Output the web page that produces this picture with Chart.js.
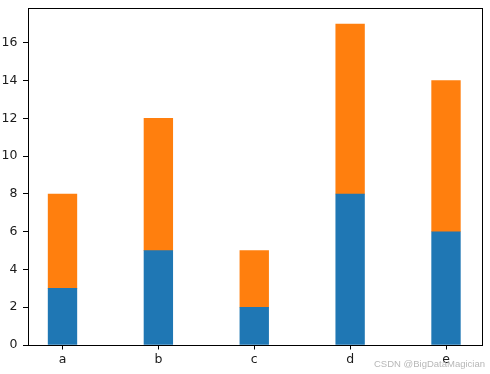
<!DOCTYPE html>
<html>
<head>
<meta charset="utf-8">
<script src="https://cdn.jsdelivr.net/npm/chart.js@4/dist/chart.umd.min.js"></script>
<style>
html,body{margin:0;padding:0;background:#fff;}
#wrap{width:490px;height:374px;position:relative;}
</style>
</head>
<body>
<div id="wrap"><canvas id="c" width="490" height="374"></canvas></div>
<script>
const categories = ['a', 'b', 'c', 'd', 'e'];
const seriesBottom = [3, 5, 2, 8, 6];
const seriesTop = [5, 7, 3, 9, 8];
const yTicks = [0, 2, 4, 6, 8, 10, 12, 14, 16];
const watermark = 'CSDN @BigDataMagician';

const toPoints = arr => arr.map((v, i) => ({x: i, y: v}));

const framePlugin = {
  id: 'frame',
  afterDraw(chart) {
    const {ctx, chartArea: a} = chart;
    ctx.save();
    ctx.strokeStyle = '#000';
    ctx.lineWidth = 1;
    ctx.strokeRect(Math.round(a.left) + 0.5, Math.round(a.top) + 0.5,
      Math.round(a.right - a.left), Math.round(a.bottom - a.top));
    ctx.font = '9.5px "Liberation Sans", Arial, sans-serif';
    ctx.fillStyle = 'rgba(175,175,175,0.9)';
    ctx.textAlign = 'right';
    ctx.textBaseline = 'alphabetic';
    ctx.fillText(watermark, 485, 367);
    ctx.restore();
  }
};

const tickFont = {family: '"DejaVu Sans", sans-serif', size: 12.5};

new Chart(document.getElementById('c'), {
  type: 'bar',
  data: {
    datasets: [
      {data: toPoints(seriesBottom), backgroundColor: '#1f77b4', barThickness: 28.7},
      {data: toPoints(seriesTop), backgroundColor: '#ff7f0e', barThickness: 28.7}
    ]
  },
  options: {
    responsive: false,
    animation: false,
    layout: {padding: {left: 0, top: 8, right: 9, bottom: 0}},
    plugins: {legend: {display: false}, tooltip: {enabled: false}},
    scales: {
      x: {
        type: 'linear',
        stacked: true,
        min: -0.365,
        max: 4.365,
        offset: false,
        afterBuildTicks: s => { s.ticks = categories.map((_, i) => ({value: i})); },
        afterFit: s => { s.height = 29; s.paddingLeft = 0; s.paddingRight = 0; },
        ticks: {
          callback: v => categories[v],
          color: '#1a1a1a',
          font: tickFont,
          padding: 3,
          maxRotation: 0,
          autoSkip: false
        },
        grid: {display: true, offset: false, drawOnChartArea: false, drawTicks: true, tickLength: 4.5, color: '#000'},
        border: {display: false}
      },
      y: {
        stacked: true,
        min: 0,
        max: 17.85,
        afterBuildTicks: s => { s.ticks = yTicks.map(v => ({value: v})); },
        afterFit: s => { s.width = 27.5; s.paddingTop = 0; s.paddingBottom = 0; },
        ticks: {
          color: '#1a1a1a',
          font: tickFont,
          padding: 5.5
        },
        grid: {display: true, offset: false, drawOnChartArea: false, drawTicks: true, tickLength: 4.5, color: '#000'},
        border: {display: false}
      }
    }
  },
  plugins: [framePlugin]
});
</script>
</body>
</html>
